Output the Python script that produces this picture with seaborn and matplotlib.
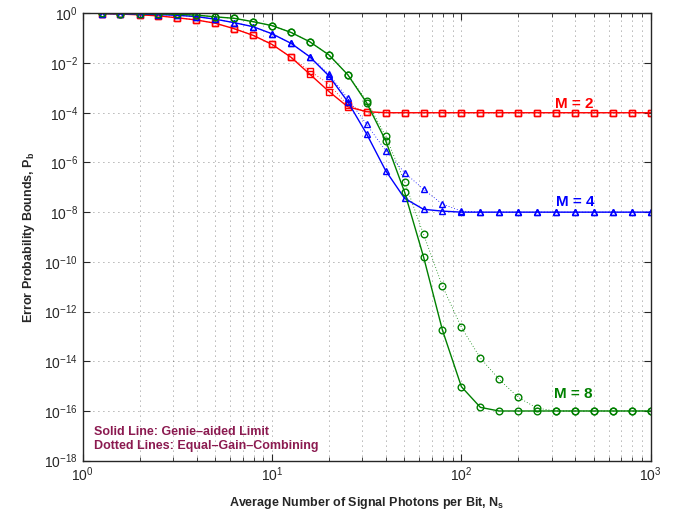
import numpy as np
import pandas as pd
import matplotlib
matplotlib.use("Agg")
import matplotlib.pyplot as plt
import matplotlib.ticker as mticker
import seaborn as sns

# average number of signal photons per bit (marker positions)
ns = [1.26, 1.58, 2.00, 2.51, 3.16, 3.98, 5.01, 6.31, 7.94, 10.0,
      12.6, 15.8, 20.0, 25.1, 31.6, 39.8, 50.1, 63.1, 79.4, 100.0,
      126, 158, 200, 251, 316, 398, 501, 631, 794, 1000]

# M = 2
pb_m2_genie = [0.98, 0.93, 0.87, 0.79, 0.66, 0.54, 0.40, 0.24, 0.13, 5.6e-2,
               1.7e-2, 3.6e-3, 7.1e-4, 1.74e-4, 1.1e-4, 1e-4, 1e-4, 1e-4, 1e-4, 1e-4,
               1e-4, 1e-4, 1e-4, 1e-4, 1e-4, 1e-4, 1e-4, 1e-4, 1e-4, 1e-4]
pb_m2_egc = [0.98, 0.93, 0.87, 0.79, 0.66, 0.54, 0.40, 0.24, 0.13, 5.6e-2,
             1.7e-2, 4.9e-3, 1.4e-3, 2.0e-4, 1.1e-4, 1e-4, 1e-4, 1e-4, 1e-4, 1e-4,
             1e-4, 1e-4, 1e-4, 1e-4, 1e-4, 1e-4, 1e-4, 1e-4, 1e-4, 1e-4]

# M = 4
pb_m4_genie = [0.98, 0.95, 0.93, 0.89, 0.83, 0.74, 0.58, 0.42, 0.29, 0.15,
               6.2e-2, 1.8e-2, 3.0e-3, 2.8e-4, 1.4e-5, 4.7e-7, 3.6e-8, 1.3e-8, 1.1e-8, 1e-8,
               1e-8, 1e-8, 1e-8, 1e-8, 1e-8, 1e-8, 1e-8, 1e-8, 1e-8, 1e-8]
pb_m4_egc = [0.98, 0.95, 0.93, 0.89, 0.83, 0.74, 0.58, 0.42, 0.29, 0.15,
             6.2e-2, 1.8e-2, 3.5e-3, 3.8e-4, 3.4e-5, 3.0e-6, 3.9e-7, 8.3e-8, 2.1e-8, 1.1e-8,
             1e-8, 1e-8, 1e-8, 1e-8, 1e-8, 1e-8, 1e-8, 1e-8, 1e-8, 1e-8]

# M = 8
pb_m8_genie = [0.99, 0.98, 0.97, 0.95, 0.91, 0.85, 0.72, 0.63, 0.46, 0.32,
               0.17, 7.2e-2, 2.1e-2, 3.4e-3, 2.5e-4, 7.6e-6, 6.5e-8, 1.6e-10, 1.8e-13, 9.5e-16,
               1.4e-16, 1.0e-16, 1e-16, 1e-16, 1e-16, 1e-16, 1e-16, 1e-16, 1e-16, 1e-16]
pb_m8_egc = [0.99, 0.98, 0.97, 0.95, 0.91, 0.85, 0.72, 0.63, 0.46, 0.32,
             0.17, 7.2e-2, 2.1e-2, 3.4e-3, 3.0e-4, 1.15e-5, 1.7e-7, 1.3e-9, 1.07e-11, 2.3e-13,
             1.35e-14, 1.9e-15, 3.5e-16, 1.3e-16, 1e-16, 1e-16, 1e-16, 1e-16, 1e-16, 1e-16]

y_ticks = [1e0, 1e-2, 1e-4, 1e-6, 1e-8, 1e-10, 1e-12, 1e-14, 1e-16, 1e-18]

sns.set_style("ticks")
plt.rcParams['font.family'] = ['Liberation Sans', 'DejaVu Sans']
plt.rcParams['mathtext.fontset'] = 'custom'
plt.rcParams['mathtext.rm'] = 'Liberation Sans'
plt.rcParams['mathtext.it'] = 'Liberation Sans:italic'
plt.rcParams['mathtext.bf'] = 'Liberation Sans:bold'

fig = plt.figure(figsize=(6.73, 5.14), dpi=100)
ax = fig.add_axes([0.1229, 0.1037, 0.8440, 0.8704])

green = '#008000'
series = [
    (pb_m2_egc, 'red', 's', ':'),
    (pb_m4_egc, 'blue', '^', ':'),
    (pb_m8_egc, green, 'o', ':'),
    (pb_m2_genie, 'red', 's', '-'),
    (pb_m4_genie, 'blue', '^', '-'),
    (pb_m8_genie, green, 'o', '-'),
]
for pb, col, mk, ls in series:
    df = pd.DataFrame({'Ns': ns, 'Pb': pb})
    if ls == '-':
        style = dict(linestyle='-', linewidth=1.0)
    else:
        # thin, sparse dots for the equal-gain-combining curves
        style = dict(linestyle=(0, (1, 2.5)), linewidth=0.6)
    sns.lineplot(data=df, x='Ns', y='Pb', ax=ax, estimator=None, sort=False,
                 color=col, marker=mk, markersize=4.8, markerfacecolor='none',
                 markeredgecolor=col, markeredgewidth=1.0, **style)

ax.set_xscale('log')
ax.set_yscale('log')
ax.set_xlim(1, 1000)
ax.set_ylim(1e-18, 1)
ax.set_yticks(y_ticks)
ax.yaxis.set_minor_locator(mticker.NullLocator())
ax.xaxis.set_minor_locator(mticker.LogLocator(base=10, subs=np.arange(2, 10)))

ax.grid(True, which='both', axis='x', color='k', linestyle=(0, (1, 5)), linewidth=0.6, alpha=0.6)
ax.grid(True, which='major', axis='y', color='k', linestyle=(0, (1, 5)), linewidth=0.6, alpha=0.6)

ax.tick_params(which='both', direction='in', top=True, right=True, labelsize=10)
ax.tick_params(which='major', length=5)
ax.tick_params(which='minor', length=3)
for sp in ax.spines.values():
    sp.set_linewidth(1.0)

ax.set_xlabel('Average Number of Signal Photons per Bit, N$_\\mathbf{s}$',
              fontsize=9, fontweight='bold', labelpad=8)
ax.set_ylabel('Error Probability Bounds, P$_\\mathbf{b}$',
              fontsize=9, fontweight='bold', labelpad=5)

ax.text(396, 1.5e-4, 'M = 2', color='red', fontsize=11, fontweight='bold', ha='center', va='baseline')
ax.text(397, 1.7e-8, 'M = 4', color='blue', fontsize=11, fontweight='bold', ha='center', va='baseline')
ax.text(392, 3.2e-16, 'M = 8', color=green, fontsize=11, fontweight='bold', ha='center', va='baseline')

note_color = '#8B1A50'
ax.text(0.0204, 0.0574, 'Solid Line: Genie–aided Limit', transform=ax.transAxes,
        color=note_color, fontsize=9, fontweight='bold', va='baseline')
ax.text(0.0204, 0.0255, 'Dotted Lines: Equal–Gain–Combining', transform=ax.transAxes,
        color=note_color, fontsize=9, fontweight='bold', va='baseline')

fig.savefig('out.png', dpi=100)
